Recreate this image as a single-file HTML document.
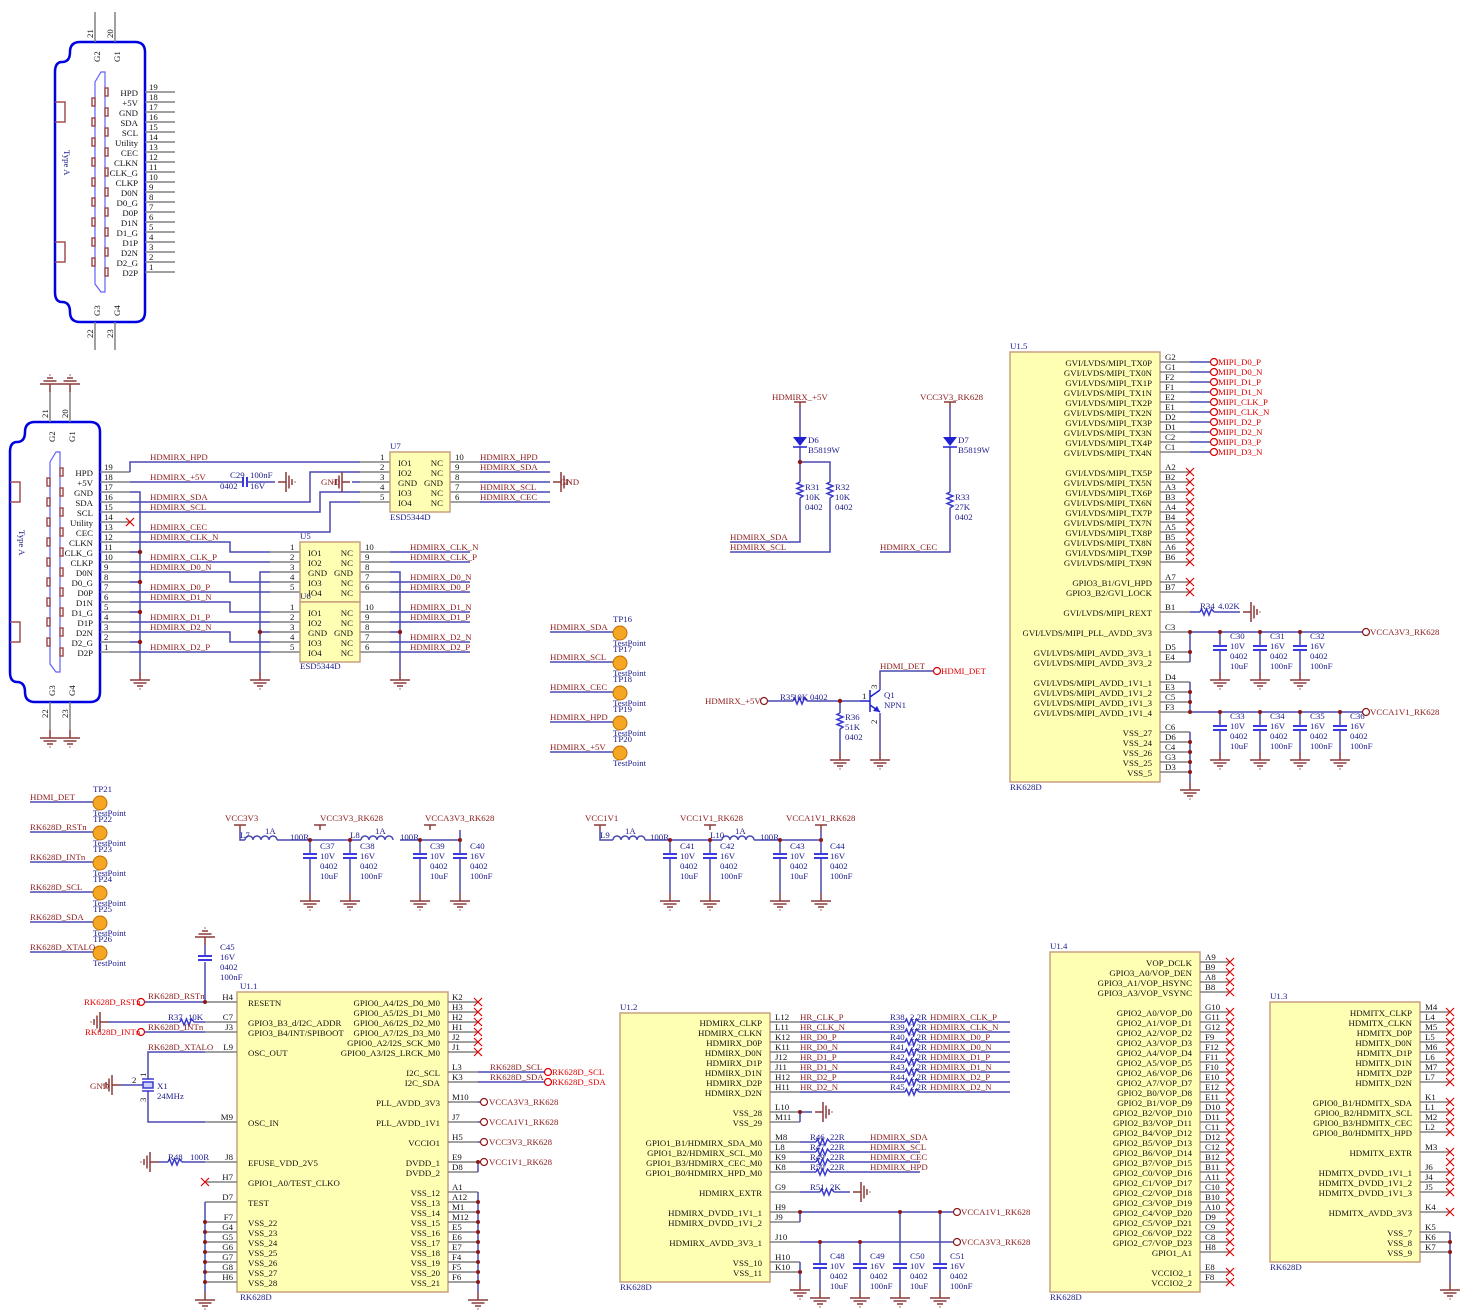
<!DOCTYPE html>
<html><head><meta charset="utf-8"><style>
body{margin:0;background:#fff}
svg{display:block}
text{font-family:"Liberation Serif",serif;font-size:8.8px}
.b{fill:#1c1c8c}.r{fill:#8b1a1a}.k{fill:#111}.rr{fill:#e00000}
.e{text-anchor:end}
.p{stroke:#808080;stroke-width:1.5;fill:none}
.w{stroke:#4848b0;stroke-width:1.5;fill:none}
.bx{fill:#ffffb4;stroke:#c8a080;stroke-width:1.5}
.x{stroke:#e00000;stroke-width:1.2;fill:none}
.gr{stroke:#8b3a3a;stroke-width:1.5;fill:none}
.cp{stroke:#3a3ae0;stroke-width:2;fill:none}
.d{fill:#8b1a1a}
.po{fill:#fff;stroke:#e00000;stroke-width:1.2}
.pd{fill:#fff;stroke:#8b1a1a;stroke-width:1.2}
.tp{fill:#f5a623;stroke:#c07000;stroke-width:1}
</style></head><body>
<svg width="1470" height="1312" viewBox="0 0 1470 1312" xmlns="http://www.w3.org/2000/svg">
<defs>
<g id="gd"><path class="gr" d="M0 0v8M-10 8h20M-6.5 11h13M-3 14h6M-0.5 17h1"/></g>
<g id="rh"><polyline points="0,0 1.5,-3 4,3 6.5,-3 9,3 11.5,-3 14,0" fill="none" stroke="#3a3ad0" stroke-width="1.5"/></g>
<g id="rv"><polyline points="0,0 -3,1.5 3,4 -3,6.5 3,9 -3,11.5 3,14 0,16" fill="none" stroke="#3a3ad0" stroke-width="1.5"/></g>
<g id="cv"><path class="cp" d="M-7 0h14M-7 4h14"/></g>
<g id="xx"><path class="x" d="M-4 -4l8 8M4 -4l-8 8"/></g>
<g id="co">
<path d="M80 42H135Q145 42 145 52V312Q145 322 135 322H80Q70 322 70 312Q70 302 62 302Q55 302 55 292V72Q55 62 62 62Q70 62 70 52Q70 42 80 42Z" fill="none" stroke="#0000e0" stroke-width="2.5"/>
<polygon points="95,82 101,72 105,72 105,292 101,292 95,284" fill="none" stroke="#6060ff" stroke-width="1.2"/>
<path d="M55 102h10v20h-10M55 242h10v20h-10" fill="none" stroke="#a05050" stroke-width="1.5"/>
<path d="M95 12v30M115 12v30M95 322v28M115 322v28" class="p"/>
<path d="M145 92h30M145 102h30M145 112h30M145 122h30M145 132h30M145 142h30M145 152h30M145 162h30M145 172h30M145 182h30M145 192h30M145 202h30M145 212h30M145 222h30M145 232h30M145 242h30M145 252h30M145 262h30M145 272h30" class="p"/>
<g fill="none" stroke="#a05050" stroke-width="1.5">
<rect x="105" y="88" width="3" height="8"/><rect x="105" y="108" width="3" height="8"/><rect x="105" y="128" width="3" height="8"/><rect x="105" y="148" width="3" height="8"/><rect x="105" y="168" width="3" height="8"/><rect x="105" y="188" width="3" height="8"/><rect x="105" y="208" width="3" height="8"/><rect x="105" y="228" width="3" height="8"/><rect x="105" y="248" width="3" height="8"/><rect x="105" y="268" width="3" height="8"/>
<rect x="92" y="98" width="3" height="8"/><rect x="92" y="118" width="3" height="8"/><rect x="92" y="138" width="3" height="8"/><rect x="92" y="158" width="3" height="8"/><rect x="92" y="178" width="3" height="8"/><rect x="92" y="198" width="3" height="8"/><rect x="92" y="218" width="3" height="8"/><rect x="92" y="238" width="3" height="8"/><rect x="92" y="258" width="3" height="8"/>
</g>
<text class="b" font-size="12.5" transform="translate(64,150) rotate(90)">Type  A</text>
<g class="k">
<text transform="translate(93,38) rotate(-90)">21</text><text transform="translate(113,38) rotate(-90)">20</text>
<text transform="translate(100,62) rotate(-90)">G2</text><text transform="translate(120,62) rotate(-90)">G1</text>
<text transform="translate(100,316) rotate(-90)">G3</text><text transform="translate(120,316) rotate(-90)">G4</text>
<text transform="translate(93,338) rotate(-90)">22</text><text transform="translate(113,338) rotate(-90)">23</text>
</g>
<g class="k e">
<text x="138" y="96">HPD</text><text x="138" y="106">+5V</text><text x="138" y="116">GND</text><text x="138" y="126">SDA</text><text x="138" y="136">SCL</text><text x="138" y="146">Utility</text><text x="138" y="156">CEC</text><text x="138" y="166">CLKN</text><text x="138" y="176">CLK_G</text><text x="138" y="186">CLKP</text><text x="138" y="196">D0N</text><text x="138" y="206">D0_G</text><text x="138" y="216">D0P</text><text x="138" y="226">D1N</text><text x="138" y="236">D1_G</text><text x="138" y="246">D1P</text><text x="138" y="256">D2N</text><text x="138" y="266">D2_G</text><text x="138" y="276">D2P</text>
</g>
<g class="k">
<text x="149" y="90">19</text><text x="149" y="100">18</text><text x="149" y="110">17</text><text x="149" y="120">16</text><text x="149" y="130">15</text><text x="149" y="140">14</text><text x="149" y="150">13</text><text x="149" y="160">12</text><text x="149" y="170">11</text><text x="149" y="180">10</text><text x="149" y="190">9</text><text x="149" y="200">8</text><text x="149" y="210">7</text><text x="149" y="220">6</text><text x="149" y="230">5</text><text x="149" y="240">4</text><text x="149" y="250">3</text><text x="149" y="260">2</text><text x="149" y="270">1</text>
</g>
</g>
</defs>

<use href="#co"/>
<use href="#co" transform="translate(-45 380)"/>
<use href="#gd" transform="translate(50 392) rotate(180)"/><use href="#gd" transform="translate(70 392) rotate(180)"/>
<use href="#gd" transform="translate(50 730)"/><use href="#gd" transform="translate(70 730)"/>

<path class="w" d="M130 472V462H360M130 482H243M247 482H275M130 492H140V672M130 552H140M130 582H140M130 612H140M130 642H140M130 502H310V472H360M130 512H320V492H360M130 532H330V502H360M130 542H230V552H270M130 562H270M130 572H230V582H270M130 592H270M130 602H230V612H270M130 622H270M130 632H230V642H270M130 652H270M270 572H260V672M260 632H270M390 572H400V672M390 632H400M390 552H470M390 562H470M390 582H470M390 592H470M390 612H470M390 622H470M390 642H470M390 652H470M480 462H550M480 472H550M480 492H550M480 502H550M480 482H550M360 482H352"/>
<path class="cp" d="M243 477v10M247 477v10"/>
<use href="#gd" transform="translate(278 482) rotate(-90)"/>
<use href="#gd" transform="translate(553 482) rotate(-90)"/>
<use href="#gd" transform="translate(350 482) rotate(90)"/>
<use href="#gd" transform="translate(140 672)"/><use href="#gd" transform="translate(260 672)"/><use href="#gd" transform="translate(400 672)"/>
<use href="#xx" transform="translate(130 522)"/>
<g class="d"><circle cx="140" cy="552" r="2.2"/><circle cx="140" cy="582" r="2.2"/><circle cx="140" cy="612" r="2.2"/><circle cx="140" cy="642" r="2.2"/><circle cx="260" cy="632" r="2.2"/><circle cx="400" cy="632" r="2.2"/></g>
<g class="r">
<text x="150" y="460">HDMIRX_HPD</text><text x="150" y="480">HDMIRX_+5V</text><text x="150" y="500">HDMIRX_SDA</text><text x="150" y="510">HDMIRX_SCL</text><text x="150" y="530">HDMIRX_CEC</text><text x="150" y="540">HDMIRX_CLK_N</text><text x="150" y="560">HDMIRX_CLK_P</text><text x="150" y="570">HDMIRX_D0_N</text><text x="150" y="590">HDMIRX_D0_P</text><text x="150" y="600">HDMIRX_D1_N</text><text x="150" y="620">HDMIRX_D1_P</text><text x="150" y="630">HDMIRX_D2_N</text><text x="150" y="650">HDMIRX_D2_P</text>
<text x="480" y="460">HDMIRX_HPD</text><text x="480" y="470">HDMIRX_SDA</text><text x="480" y="490">HDMIRX_SCL</text><text x="480" y="500">HDMIRX_CEC</text>
<text x="410" y="550">HDMIRX_CLK_N</text><text x="410" y="560">HDMIRX_CLK_P</text><text x="410" y="580">HDMIRX_D0_N</text><text x="410" y="590">HDMIRX_D0_P</text><text x="410" y="610">HDMIRX_D1_N</text><text x="410" y="620">HDMIRX_D1_P</text><text x="410" y="640">HDMIRX_D2_N</text><text x="410" y="650">HDMIRX_D2_P</text>
<text x="321" y="485">GND</text><text x="560" y="485">GND</text>
</g>
<g class="b"><text x="230" y="478">C29</text><text x="250" y="478">100nF</text><text x="220" y="489">0402</text><text x="250" y="489">16V</text></g>

<path class="p" d="M360 462h30M360 472h30M360 482h30M360 492h30M360 502h30M450 462h30M450 472h30M450 482h30M450 492h30M450 502h30"/>
<rect class="bx" x="390" y="452" width="60" height="60"/>
<g class="k"><text x="398" y="466">IO1</text><text x="398" y="476">IO2</text><text x="398" y="486">GND</text><text x="398" y="496">IO3</text><text x="398" y="506">IO4</text>
<text class="e" x="443" y="466">NC</text><text class="e" x="443" y="476">NC</text><text class="e" x="443" y="486">GND</text><text class="e" x="443" y="496">NC</text><text class="e" x="443" y="506">NC</text>
<text x="380" y="460">1</text><text x="380" y="470">2</text><text x="380" y="480">3</text><text x="380" y="490">4</text><text x="380" y="500">5</text>
<text x="455" y="460">10</text><text x="455" y="470">9</text><text x="455" y="480">8</text><text x="455" y="490">7</text><text x="455" y="500">6</text></g>
<text class="b" x="390" y="449">U7</text><text class="b" x="390" y="520">ESD5344D</text>

<path class="p" d="M270 552h30M270 562h30M270 572h30M270 582h30M270 592h30M360 552h30M360 562h30M360 572h30M360 582h30M360 592h30M270 612h30M270 622h30M270 632h30M270 642h30M270 652h30M360 612h30M360 622h30M360 632h30M360 642h30M360 652h30"/>
<rect class="bx" x="300" y="542" width="60" height="60"/>
<rect class="bx" x="300" y="602" width="60" height="60"/>
<g class="k">
<text x="308" y="556">IO1</text><text x="308" y="566">IO2</text><text x="308" y="576">GND</text><text x="308" y="586">IO3</text><text x="308" y="596">IO4</text>
<text class="e" x="353" y="556">NC</text><text class="e" x="353" y="566">NC</text><text class="e" x="353" y="576">GND</text><text class="e" x="353" y="586">NC</text><text class="e" x="353" y="596">NC</text>
<text x="308" y="616">IO1</text><text x="308" y="626">IO2</text><text x="308" y="636">GND</text><text x="308" y="646">IO3</text><text x="308" y="656">IO4</text>
<text class="e" x="353" y="616">NC</text><text class="e" x="353" y="626">NC</text><text class="e" x="353" y="636">GND</text><text class="e" x="353" y="646">NC</text><text class="e" x="353" y="656">NC</text>
<text x="290" y="550">1</text><text x="290" y="560">2</text><text x="290" y="570">3</text><text x="290" y="580">4</text><text x="290" y="590">5</text>
<text x="290" y="610">1</text><text x="290" y="620">2</text><text x="290" y="630">3</text><text x="290" y="640">4</text><text x="290" y="650">5</text>
<text x="365" y="550">10</text><text x="365" y="560">9</text><text x="365" y="570">8</text><text x="365" y="580">7</text><text x="365" y="590">6</text>
<text x="365" y="610">10</text><text x="365" y="620">9</text><text x="365" y="630">8</text><text x="365" y="640">7</text><text x="365" y="650">6</text></g>
<text class="b" x="300" y="539">U5</text><text class="b" x="300" y="599">U6</text><text class="b" x="300" y="669">ESD5344D</text>

<path class="w" d="M550 632H613M550 662H613M550 692H613M550 722H613M550 752H613"/>
<g class="tp"><circle cx="620" cy="633" r="7"/><circle cx="620" cy="663" r="7"/><circle cx="620" cy="693" r="7"/><circle cx="620" cy="723" r="7"/><circle cx="620" cy="753" r="7"/></g>
<g class="r"><text x="550" y="630">HDMIRX_SDA</text><text x="550" y="660">HDMIRX_SCL</text><text x="550" y="690">HDMIRX_CEC</text><text x="550" y="720">HDMIRX_HPD</text><text x="550" y="750">HDMIRX_+5V</text></g>
<g class="b"><text x="613" y="622">TP16</text><text x="613" y="646">TestPoint</text><text x="613" y="652">TP17</text><text x="613" y="676">TestPoint</text><text x="613" y="682">TP18</text><text x="613" y="706">TestPoint</text><text x="613" y="712">TP19</text><text x="613" y="736">TestPoint</text><text x="613" y="742">TP20</text><text x="613" y="766">TestPoint</text></g>

<path class="w" d="M30 802H93M30 832H93M30 862H93M30 892H93M30 922H93M30 952H93"/>
<g class="tp"><circle cx="100" cy="803" r="7"/><circle cx="100" cy="833" r="7"/><circle cx="100" cy="863" r="7"/><circle cx="100" cy="893" r="7"/><circle cx="100" cy="923" r="7"/><circle cx="100" cy="953" r="7"/></g>
<g class="r"><text x="30" y="800">HDMI_DET</text><text x="30" y="830">RK628D_RSTn</text><text x="30" y="860">RK628D_INTn</text><text x="30" y="890">RK628D_SCL</text><text x="30" y="920">RK628D_SDA</text><text x="30" y="950">RK628D_XTALO</text></g>
<g class="b"><text x="93" y="792">TP21</text><text x="93" y="816">TestPoint</text><text x="93" y="822">TP22</text><text x="93" y="846">TestPoint</text><text x="93" y="852">TP23</text><text x="93" y="876">TestPoint</text><text x="93" y="882">TP24</text><text x="93" y="906">TestPoint</text><text x="93" y="912">TP25</text><text x="93" y="936">TestPoint</text><text x="93" y="942">TP26</text><text x="93" y="966">TestPoint</text></g>

<path class="gr" d="M794 402h12M800 402v5M944 402h12M950 402v5"/>
<path class="w" d="M800 407V437M800 447V482M800 498V542H730M800 462H830V482M830 498V552H730M950 407V437M950 447V492M950 508V552H880"/>
<g fill="#2020d0"><polygon points="793,437 807,437 800,446"/><polygon points="943,437 957,437 950,446"/></g>
<path d="M793 447h14M943 447h14" stroke="#2020d0" stroke-width="1.5"/>
<use href="#rv" x="800" y="482"/><use href="#rv" x="830" y="482"/><use href="#rv" x="950" y="492"/>
<circle class="d" cx="800" cy="462" r="2.2"/>
<g class="r"><text x="772" y="400">HDMIRX_+5V</text><text x="920" y="400">VCC3V3_RK628</text><text x="730" y="540">HDMIRX_SDA</text><text x="730" y="550">HDMIRX_SCL</text><text x="880" y="550">HDMIRX_CEC</text></g>
<g class="b"><text x="808" y="443">D6</text><text x="808" y="453">B5819W</text><text x="958" y="443">D7</text><text x="958" y="453">B5819W</text>
<text x="805" y="490">R31</text><text x="805" y="500">10K</text><text x="805" y="510">0402</text><text x="835" y="490">R32</text><text x="835" y="500">10K</text><text x="835" y="510">0402</text>
<text x="955" y="500">R33</text><text x="955" y="510">27K</text><text x="955" y="520">0402</text></g>

<circle class="pd" cx="764" cy="701" r="3.5"/>
<path class="w" d="M768 701H793M807 701H860M840 701V713M840 729V752M880 690V671H933M880 713V752"/>
<use href="#rh" x="793" y="701"/><use href="#rv" x="840" y="713"/>
<circle class="d" cx="840" cy="701" r="2.2"/>
<path d="M870 690v22M860 701h10M870 697l10 -7M870 705l10 7" stroke="#2020d0" stroke-width="1.5" fill="none"/>
<polygon points="880,712 873,711 877,706" fill="#2020d0"/>
<circle class="po" cx="937" cy="671" r="3.5"/>
<use href="#gd" transform="translate(840 752)"/><use href="#gd" transform="translate(880 752)"/>
<g class="r"><text x="705" y="704">HDMIRX_+5V</text><text x="880" y="669">HDMI_DET</text></g>
<text class="rr" x="941" y="674">HDMI_DET</text>
<g class="b"><text x="780" y="700">R35</text><text x="793" y="700">10K</text><text x="810" y="700">0402</text><text x="845" y="720">R36</text><text x="845" y="730">51K</text><text x="845" y="740">0402</text><text x="884" y="698">Q1</text><text x="884" y="708">NPN1</text></g>
<g class="k"><text x="862" y="699">1</text><text transform="translate(877,689) rotate(-90)">3</text><text transform="translate(877,724) rotate(-90)">2</text></g>

<path class="gr" d="M234 825h12M240 825v5M314 825h12M320 825v5M424 825h12M430 825v5"/>
<path class="w" d="M240 830V840H245M277 840H361M400 840H460V830M310 840V853M310 858V893M350 840V853M350 858V893M420 840V853M420 858V893M460 840V853M460 858V893"/>
<path class="w" d="M245 840a4 4 0 0 1 8 0a4 4 0 0 1 8 0a4 4 0 0 1 8 0a4 4 0 0 1 8 0M361 840a4 4 0 0 1 8 0a4 4 0 0 1 8 0a4 4 0 0 1 8 0a4 4 0 0 1 8 0"/>
<path class="gr" d="M594 825h12M600 825v5M704 825h12M710 825v5M815 825h12M821 825v5"/>
<path class="w" d="M600 830V840H613M645 840H722M754 840H821V830M670 840V853M670 858V893M710 840V853M710 858V893M780 840V853M780 858V893M821 840V853M821 858V893"/>
<path class="w" d="M613 840a4 4 0 0 1 8 0a4 4 0 0 1 8 0a4 4 0 0 1 8 0a4 4 0 0 1 8 0M722 840a4 4 0 0 1 8 0a4 4 0 0 1 8 0a4 4 0 0 1 8 0a4 4 0 0 1 8 0"/>
<g><use href="#cv" x="310" y="854"/><use href="#cv" x="350" y="854"/><use href="#cv" x="420" y="854"/><use href="#cv" x="460" y="854"/><use href="#cv" x="670" y="854"/><use href="#cv" x="710" y="854"/><use href="#cv" x="780" y="854"/><use href="#cv" x="821" y="854"/></g>
<use href="#gd" x="310" y="893"/><use href="#gd" x="350" y="893"/><use href="#gd" x="420" y="893"/><use href="#gd" x="460" y="893"/><use href="#gd" x="670" y="893"/><use href="#gd" x="710" y="893"/><use href="#gd" x="780" y="893"/><use href="#gd" x="821" y="893"/>
<g class="d"><circle cx="310" cy="840" r="2"/><circle cx="350" cy="840" r="2"/><circle cx="420" cy="840" r="2"/><circle cx="460" cy="840" r="2"/><circle cx="670" cy="840" r="2"/><circle cx="710" cy="840" r="2"/><circle cx="780" cy="840" r="2"/><circle cx="821" cy="840" r="2"/></g>
<g class="r"><text x="225" y="821">VCC3V3</text><text x="320" y="821">VCC3V3_RK628</text><text x="425" y="821">VCCA3V3_RK628</text><text x="585" y="821">VCC1V1</text><text x="680" y="821">VCC1V1_RK628</text><text x="786" y="821">VCCA1V1_RK628</text></g>
<g class="b">
<text x="240" y="838">L7</text><text x="265" y="834">1A</text><text x="290" y="840">100R</text><text x="350" y="838">L8</text><text x="375" y="834">1A</text><text x="400" y="840">100R</text>
<text x="600" y="838">L9</text><text x="625" y="834">1A</text><text x="650" y="840">100R</text><text x="710" y="838">L10</text><text x="735" y="834">1A</text><text x="760" y="840">100R</text>
<text x="320" y="849">C37</text><text x="320" y="859">10V</text><text x="320" y="869">0402</text><text x="320" y="879">10uF</text>
<text x="360" y="849">C38</text><text x="360" y="859">16V</text><text x="360" y="869">0402</text><text x="360" y="879">100nF</text>
<text x="430" y="849">C39</text><text x="430" y="859">10V</text><text x="430" y="869">0402</text><text x="430" y="879">10uF</text>
<text x="470" y="849">C40</text><text x="470" y="859">16V</text><text x="470" y="869">0402</text><text x="470" y="879">100nF</text>
<text x="680" y="849">C41</text><text x="680" y="859">10V</text><text x="680" y="869">0402</text><text x="680" y="879">10uF</text>
<text x="720" y="849">C42</text><text x="720" y="859">16V</text><text x="720" y="869">0402</text><text x="720" y="879">100nF</text>
<text x="790" y="849">C43</text><text x="790" y="859">10V</text><text x="790" y="869">0402</text><text x="790" y="879">10uF</text>
<text x="830" y="849">C44</text><text x="830" y="859">16V</text><text x="830" y="869">0402</text><text x="830" y="879">100nF</text></g>

<rect class="bx" x="1010" y="352" width="150" height="430"/>
<path class="p" d="M1160 362h30M1160 372h30M1160 382h30M1160 392h30M1160 402h30M1160 412h30M1160 422h30M1160 432h30M1160 442h30M1160 452h30M1160 472h30M1160 482h30M1160 492h30M1160 502h30M1160 512h30M1160 522h30M1160 532h30M1160 542h30M1160 552h30M1160 562h30M1160 582h30M1160 592h30M1160 612h30M1160 632h30M1160 652h30M1160 662h30M1160 682h30M1160 692h30M1160 702h30M1160 712h30M1160 732h30M1160 742h30M1160 752h30M1160 762h30M1160 772h30"/>
<path class="w" d="M1190 362H1210M1190 372H1210M1190 382H1210M1190 392H1210M1190 402H1210M1190 412H1210M1190 422H1210M1190 432H1210M1190 442H1210M1190 452H1210M1190 612H1200M1214 612H1240M1190 632H1362M1190 632V662M1190 682V712H1362M1190 732V782M1220 632V645M1220 650V672M1260 632V645M1260 650V672M1300 632V645M1300 650V672M1220 712V725M1220 730V752M1260 712V725M1260 730V752M1300 712V725M1300 730V752M1340 712V725M1340 730V752"/>
<use href="#rh" x="1200" y="612"/>
<use href="#gd" transform="translate(1243 612) rotate(-90)"/>
<g><use href="#cv" x="1220" y="646"/><use href="#cv" x="1260" y="646"/><use href="#cv" x="1300" y="646"/><use href="#cv" x="1220" y="726"/><use href="#cv" x="1260" y="726"/><use href="#cv" x="1300" y="726"/><use href="#cv" x="1340" y="726"/></g>
<use href="#gd" x="1220" y="672"/><use href="#gd" x="1260" y="672"/><use href="#gd" x="1300" y="672"/><use href="#gd" x="1220" y="752"/><use href="#gd" x="1260" y="752"/><use href="#gd" x="1300" y="752"/><use href="#gd" x="1340" y="752"/><use href="#gd" x="1190" y="782"/>
<g class="d"><circle cx="1190" cy="632" r="2"/><circle cx="1190" cy="652" r="2"/><circle cx="1220" cy="632" r="2"/><circle cx="1260" cy="632" r="2"/><circle cx="1300" cy="632" r="2"/><circle cx="1190" cy="692" r="2"/><circle cx="1190" cy="702" r="2"/><circle cx="1190" cy="712" r="2"/><circle cx="1220" cy="712" r="2"/><circle cx="1260" cy="712" r="2"/><circle cx="1300" cy="712" r="2"/><circle cx="1340" cy="712" r="2"/><circle cx="1190" cy="742" r="2"/><circle cx="1190" cy="752" r="2"/><circle cx="1190" cy="762" r="2"/><circle cx="1190" cy="772" r="2"/></g>
<g class="po"><circle cx="1214" cy="362" r="3.5"/><circle cx="1214" cy="372" r="3.5"/><circle cx="1214" cy="382" r="3.5"/><circle cx="1214" cy="392" r="3.5"/><circle cx="1214" cy="402" r="3.5"/><circle cx="1214" cy="412" r="3.5"/><circle cx="1214" cy="422" r="3.5"/><circle cx="1214" cy="432" r="3.5"/><circle cx="1214" cy="442" r="3.5"/><circle cx="1214" cy="452" r="3.5"/></g>
<g class="pd"><circle cx="1366" cy="632" r="3.5"/><circle cx="1366" cy="712" r="3.5"/></g>
<g><use href="#xx" x="1190" y="472"/><use href="#xx" x="1190" y="482"/><use href="#xx" x="1190" y="492"/><use href="#xx" x="1190" y="502"/><use href="#xx" x="1190" y="512"/><use href="#xx" x="1190" y="522"/><use href="#xx" x="1190" y="532"/><use href="#xx" x="1190" y="542"/><use href="#xx" x="1190" y="552"/><use href="#xx" x="1190" y="562"/><use href="#xx" x="1190" y="582"/><use href="#xx" x="1190" y="592"/></g>
<g class="k e">
<text x="1152" y="366">GVI/LVDS/MIPI_TX0P</text><text x="1152" y="376">GVI/LVDS/MIPI_TX0N</text><text x="1152" y="386">GVI/LVDS/MIPI_TX1P</text><text x="1152" y="396">GVI/LVDS/MIPI_TX1N</text><text x="1152" y="406">GVI/LVDS/MIPI_TX2P</text><text x="1152" y="416">GVI/LVDS/MIPI_TX2N</text><text x="1152" y="426">GVI/LVDS/MIPI_TX3P</text><text x="1152" y="436">GVI/LVDS/MIPI_TX3N</text><text x="1152" y="446">GVI/LVDS/MIPI_TX4P</text><text x="1152" y="456">GVI/LVDS/MIPI_TX4N</text>
<text x="1152" y="476">GVI/LVDS/MIPI_TX5P</text><text x="1152" y="486">GVI/LVDS/MIPI_TX5N</text><text x="1152" y="496">GVI/LVDS/MIPI_TX6P</text><text x="1152" y="506">GVI/LVDS/MIPI_TX6N</text><text x="1152" y="516">GVI/LVDS/MIPI_TX7P</text><text x="1152" y="526">GVI/LVDS/MIPI_TX7N</text><text x="1152" y="536">GVI/LVDS/MIPI_TX8P</text><text x="1152" y="546">GVI/LVDS/MIPI_TX8N</text><text x="1152" y="556">GVI/LVDS/MIPI_TX9P</text><text x="1152" y="566">GVI/LVDS/MIPI_TX9N</text>
<text x="1152" y="586">GPIO3_B1/GVI_HPD</text><text x="1152" y="596">GPIO3_B2/GVI_LOCK</text><text x="1152" y="616">GVI/LVDS/MIPI_REXT</text><text x="1152" y="636">GVI/LVDS/MIPI_PLL_AVDD_3V3</text>
<text x="1152" y="656">GVI/LVDS/MIPI_AVDD_3V3_1</text><text x="1152" y="666">GVI/LVDS/MIPI_AVDD_3V3_2</text>
<text x="1152" y="686">GVI/LVDS/MIPI_AVDD_1V1_1</text><text x="1152" y="696">GVI/LVDS/MIPI_AVDD_1V1_2</text><text x="1152" y="706">GVI/LVDS/MIPI_AVDD_1V1_3</text><text x="1152" y="716">GVI/LVDS/MIPI_AVDD_1V1_4</text>
<text x="1152" y="736">VSS_27</text><text x="1152" y="746">VSS_24</text><text x="1152" y="756">VSS_26</text><text x="1152" y="766">VSS_25</text><text x="1152" y="776">VSS_5</text>
</g>
<g class="k">
<text x="1165" y="360">G2</text><text x="1165" y="370">G1</text><text x="1165" y="380">F2</text><text x="1165" y="390">F1</text><text x="1165" y="400">E2</text><text x="1165" y="410">E1</text><text x="1165" y="420">D2</text><text x="1165" y="430">D1</text><text x="1165" y="440">C2</text><text x="1165" y="450">C1</text>
<text x="1165" y="470">A2</text><text x="1165" y="480">B2</text><text x="1165" y="490">A3</text><text x="1165" y="500">B3</text><text x="1165" y="510">A4</text><text x="1165" y="520">B4</text><text x="1165" y="530">A5</text><text x="1165" y="540">B5</text><text x="1165" y="550">A6</text><text x="1165" y="560">B6</text>
<text x="1165" y="580">A7</text><text x="1165" y="590">B7</text><text x="1165" y="610">B1</text><text x="1165" y="630">C3</text><text x="1165" y="650">D5</text><text x="1165" y="660">E4</text>
<text x="1165" y="680">D4</text><text x="1165" y="690">E3</text><text x="1165" y="700">C5</text><text x="1165" y="710">F3</text>
<text x="1165" y="730">C6</text><text x="1165" y="740">D6</text><text x="1165" y="750">C4</text><text x="1165" y="760">G3</text><text x="1165" y="770">D3</text></g>
<g class="rr"><text x="1218" y="365">MIPI_D0_P</text><text x="1218" y="375">MIPI_D0_N</text><text x="1218" y="385">MIPI_D1_P</text><text x="1218" y="395">MIPI_D1_N</text><text x="1218" y="405">MIPI_CLK_P</text><text x="1218" y="415">MIPI_CLK_N</text><text x="1218" y="425">MIPI_D2_P</text><text x="1218" y="435">MIPI_D2_N</text><text x="1218" y="445">MIPI_D3_P</text><text x="1218" y="455">MIPI_D3_N</text></g>
<g class="r"><text x="1370" y="635">VCCA3V3_RK628</text><text x="1370" y="715">VCCA1V1_RK628</text></g>
<g class="b"><text x="1010" y="349">U1.5</text><text x="1010" y="790">RK628D</text><text x="1200" y="609">R34</text><text x="1218" y="609">4.02K</text>
<text x="1230" y="639">C30</text><text x="1230" y="649">10V</text><text x="1230" y="659">0402</text><text x="1230" y="669">10uF</text>
<text x="1270" y="639">C31</text><text x="1270" y="649">16V</text><text x="1270" y="659">0402</text><text x="1270" y="669">100nF</text>
<text x="1310" y="639">C32</text><text x="1310" y="649">16V</text><text x="1310" y="659">0402</text><text x="1310" y="669">100nF</text>
<text x="1230" y="719">C33</text><text x="1230" y="729">10V</text><text x="1230" y="739">0402</text><text x="1230" y="749">10uF</text>
<text x="1270" y="719">C34</text><text x="1270" y="729">16V</text><text x="1270" y="739">0402</text><text x="1270" y="749">100nF</text>
<text x="1310" y="719">C35</text><text x="1310" y="729">16V</text><text x="1310" y="739">0402</text><text x="1310" y="749">100nF</text>
<text x="1350" y="719">C36</text><text x="1350" y="729">16V</text><text x="1350" y="739">0402</text><text x="1350" y="749">100nF</text></g>

<rect class="bx" x="237" y="992" width="211" height="300"/>
<path class="p" d="M205 1002h32M205 1022h32M205 1032h32M205 1052h32M205 1122h32M205 1162h32M205 1182h32M205 1202h32M205 1222h32M205 1232h32M205 1242h32M205 1252h32M205 1262h32M205 1272h32M205 1282h32M448 1002h30M448 1012h30M448 1022h30M448 1032h30M448 1042h30M448 1052h30M448 1072h30M448 1082h30M448 1102h30M448 1122h30M448 1142h30M448 1162h30M448 1172h30M448 1192h30M448 1202h30M448 1212h30M448 1222h30M448 1232h30M448 1242h30M448 1252h30M448 1262h30M448 1272h30M448 1282h30"/>
<path class="w" d="M145 1002H205M205 1002V962M205 956V945M108 1022H180M194 1022H205M145 1032H205M205 1052H148V1079M148 1091V1122H205M120 1085H143M158 1162H168M182 1162H205M205 1202V1292M478 1192V1292M478 1162V1172M478 1072H544M478 1082H544M478 1102H480M478 1122H480M478 1142H480M478 1162H480"/>
<use href="#cv" x="205" y="956"/>
<use href="#gd" transform="translate(205 945) rotate(180)"/>
<use href="#rh" x="180" y="1022"/><use href="#rh" x="168" y="1162"/>
<use href="#gd" transform="translate(108 1022) rotate(90)"/><use href="#gd" transform="translate(158 1162) rotate(90)"/><use href="#gd" transform="translate(120 1085) rotate(90)"/>
<rect x="143" y="1082" width="10" height="6" fill="#d0d0ff" stroke="#3a3ad0" stroke-width="1.5"/>
<path d="M142 1079h12M142 1091h12" stroke="#3a3ad0" stroke-width="1.5"/>
<use href="#gd" x="205" y="1292"/><use href="#gd" x="478" y="1292"/>
<use href="#xx" x="205" y="1182"/>
<g><use href="#xx" x="478" y="1002"/><use href="#xx" x="478" y="1012"/><use href="#xx" x="478" y="1022"/><use href="#xx" x="478" y="1032"/><use href="#xx" x="478" y="1042"/><use href="#xx" x="478" y="1052"/></g>
<g class="d"><circle cx="205" cy="1002" r="2"/><circle cx="205" cy="1222" r="2"/><circle cx="205" cy="1232" r="2"/><circle cx="205" cy="1242" r="2"/><circle cx="205" cy="1252" r="2"/><circle cx="205" cy="1262" r="2"/><circle cx="205" cy="1272" r="2"/><circle cx="205" cy="1282" r="2"/><circle cx="478" cy="1162" r="2"/><circle cx="478" cy="1202" r="2"/><circle cx="478" cy="1212" r="2"/><circle cx="478" cy="1222" r="2"/><circle cx="478" cy="1232" r="2"/><circle cx="478" cy="1242" r="2"/><circle cx="478" cy="1252" r="2"/><circle cx="478" cy="1262" r="2"/><circle cx="478" cy="1272" r="2"/><circle cx="478" cy="1282" r="2"/></g>
<g class="po"><circle cx="141" cy="1002" r="3.5"/><circle cx="141" cy="1032" r="3.5"/><circle cx="548" cy="1072" r="3.5"/><circle cx="548" cy="1082" r="3.5"/></g>
<g class="pd"><circle cx="484" cy="1102" r="3.5"/><circle cx="484" cy="1122" r="3.5"/><circle cx="484" cy="1142" r="3.5"/><circle cx="484" cy="1162" r="3.5"/></g>
<g class="rr"><text x="84" y="1005">RK628D_RSTn</text><text x="85" y="1035">RK628D_INTn</text><text x="552" y="1075">RK628D_SCL</text><text x="552" y="1085">RK628D_SDA</text></g>
<g class="r"><text x="148" y="999">RK628D_RSTn</text><text x="148" y="1030">RK628D_INTn</text><text x="148" y="1050">RK628D_XTALO</text><text x="490" y="1070">RK628D_SCL</text><text x="490" y="1080">RK628D_SDA</text><text x="90" y="1089">GND</text>
<text x="489" y="1105">VCCA3V3_RK628</text><text x="489" y="1125">VCCA1V1_RK628</text><text x="489" y="1145">VCC3V3_RK628</text><text x="489" y="1165">VCC1V1_RK628</text></g>
<g class="b"><text x="240" y="989">U1.1</text><text x="240" y="1300">RK628D</text><text x="220" y="950">C45</text><text x="220" y="960">16V</text><text x="220" y="970">0402</text><text x="220" y="980">100nF</text>
<text x="168" y="1020">R37</text><text x="188" y="1020">10K</text><text x="168" y="1160">R48</text><text x="190" y="1160">100R</text><text x="157" y="1089">X1</text><text x="157" y="1099">24MHz</text></g>
<g class="k"><text x="132" y="1083">2</text><text transform="translate(146,1077) rotate(-90)">1</text><text transform="translate(146,1102) rotate(-90)">3</text></g>
<g class="k">
<text x="248" y="1006">RESETN</text><text x="248" y="1026">GPIO3_B3_d/I2C_ADDR</text><text x="248" y="1036">GPIO3_B4/INT/SPIBOOT</text><text x="248" y="1056">OSC_OUT</text><text x="248" y="1126">OSC_IN</text><text x="248" y="1166">EFUSE_VDD_2V5</text><text x="248" y="1186">GPIO1_A0/TEST_CLKO</text><text x="248" y="1206">TEST</text>
<text x="248" y="1226">VSS_22</text><text x="248" y="1236">VSS_23</text><text x="248" y="1246">VSS_24</text><text x="248" y="1256">VSS_25</text><text x="248" y="1266">VSS_26</text><text x="248" y="1276">VSS_27</text><text x="248" y="1286">VSS_28</text>
</g>
<g class="k e">
<text x="440" y="1006">GPIO0_A4/I2S_D0_M0</text><text x="440" y="1016">GPIO0_A5/I2S_D1_M0</text><text x="440" y="1026">GPIO0_A6/I2S_D2_M0</text><text x="440" y="1036">GPIO0_A7/I2S_D3_M0</text><text x="440" y="1046">GPIO0_A2/I2S_SCK_M0</text><text x="440" y="1056">GPIO0_A3/I2S_LRCK_M0</text>
<text x="440" y="1076">I2C_SCL</text><text x="440" y="1086">I2C_SDA</text><text x="440" y="1106">PLL_AVDD_3V3</text><text x="440" y="1126">PLL_AVDD_1V1</text><text x="440" y="1146">VCCIO1</text><text x="440" y="1166">DVDD_1</text><text x="440" y="1176">DVDD_2</text>
<text x="440" y="1196">VSS_12</text><text x="440" y="1206">VSS_13</text><text x="440" y="1216">VSS_14</text><text x="440" y="1226">VSS_15</text><text x="440" y="1236">VSS_16</text><text x="440" y="1246">VSS_17</text><text x="440" y="1256">VSS_18</text><text x="440" y="1266">VSS_19</text><text x="440" y="1276">VSS_20</text><text x="440" y="1286">VSS_21</text>
<text x="233" y="1000">H4</text><text x="233" y="1020">C7</text><text x="233" y="1030">J3</text><text x="233" y="1050">L9</text><text x="233" y="1120">M9</text><text x="233" y="1160">J8</text><text x="233" y="1180">H7</text><text x="233" y="1200">D7</text><text x="233" y="1220">F7</text><text x="233" y="1230">G4</text><text x="233" y="1240">G5</text><text x="233" y="1250">G6</text><text x="233" y="1260">G7</text><text x="233" y="1270">G8</text><text x="233" y="1280">H6</text>
</g>
<g class="k">
<text x="452" y="1000">K2</text><text x="452" y="1010">H3</text><text x="452" y="1020">H2</text><text x="452" y="1030">H1</text><text x="452" y="1040">J2</text><text x="452" y="1050">J1</text><text x="452" y="1070">L3</text><text x="452" y="1080">K3</text><text x="452" y="1100">M10</text><text x="452" y="1120">J7</text><text x="452" y="1140">H5</text><text x="452" y="1160">E9</text><text x="452" y="1170">D8</text>
<text x="452" y="1190">A1</text><text x="452" y="1200">A12</text><text x="452" y="1210">M1</text><text x="452" y="1220">M12</text><text x="452" y="1230">E5</text><text x="452" y="1240">E6</text><text x="452" y="1250">E7</text><text x="452" y="1260">F4</text><text x="452" y="1270">F5</text><text x="452" y="1280">F6</text></g>

<rect class="bx" x="620" y="1013" width="150" height="269"/>
<path class="p" d="M770 1022h30M770 1032h30M770 1042h30M770 1052h30M770 1062h30M770 1072h30M770 1082h30M770 1092h30M770 1112h30M770 1122h30M770 1142h30M770 1152h30M770 1162h30M770 1172h30M770 1192h30M770 1212h30M770 1222h30M770 1242h30M770 1262h30M770 1272h30"/>
<path class="w" d="M800 1022H905M919 1022H1010M800 1032H905M919 1032H1010M800 1042H905M919 1042H1010M800 1052H905M919 1052H1010M800 1062H905M919 1062H1010M800 1072H905M919 1072H1010M800 1082H905M919 1082H1010M800 1092H905M919 1092H1010M800 1112V1122M800 1112H812M800 1142H816M830 1142H920M800 1152H816M830 1152H920M800 1162H816M830 1162H920M800 1172H816M830 1172H920M800 1192H820M834 1192H850M800 1212V1222M800 1212H953M800 1242H953M800 1262V1282M820 1242V1263M820 1268V1290M860 1242V1263M860 1268V1290M900 1212V1263M900 1268V1290M940 1212V1263M940 1268V1290"/>
<g><use href="#rh" x="905" y="1022"/><use href="#rh" x="905" y="1032"/><use href="#rh" x="905" y="1042"/><use href="#rh" x="905" y="1052"/><use href="#rh" x="905" y="1062"/><use href="#rh" x="905" y="1072"/><use href="#rh" x="905" y="1082"/><use href="#rh" x="905" y="1092"/><use href="#rh" x="816" y="1142"/><use href="#rh" x="816" y="1152"/><use href="#rh" x="816" y="1162"/><use href="#rh" x="816" y="1172"/><use href="#rh" x="820" y="1192"/></g>
<use href="#gd" transform="translate(815 1112) rotate(-90)"/><use href="#gd" transform="translate(853 1192) rotate(-90)"/>
<g><use href="#cv" x="820" y="1264"/><use href="#cv" x="860" y="1264"/><use href="#cv" x="900" y="1264"/><use href="#cv" x="940" y="1264"/></g>
<use href="#gd" x="800" y="1282"/><use href="#gd" x="820" y="1290"/><use href="#gd" x="860" y="1290"/><use href="#gd" x="900" y="1290"/><use href="#gd" x="940" y="1290"/>
<g class="d"><circle cx="800" cy="1112" r="2"/><circle cx="800" cy="1212" r="2"/><circle cx="900" cy="1212" r="2"/><circle cx="940" cy="1212" r="2"/><circle cx="820" cy="1242" r="2"/><circle cx="860" cy="1242" r="2"/><circle cx="800" cy="1272" r="2"/></g>
<g class="pd"><circle cx="957" cy="1212" r="3.5"/><circle cx="957" cy="1242" r="3.5"/></g>
<g class="r"><text x="961" y="1215">VCCA1V1_RK628</text><text x="961" y="1245">VCCA3V3_RK628</text>
<text x="800" y="1020">HR_CLK_P</text><text x="800" y="1030">HR_CLK_N</text><text x="800" y="1040">HR_D0_P</text><text x="800" y="1050">HR_D0_N</text><text x="800" y="1060">HR_D1_P</text><text x="800" y="1070">HR_D1_N</text><text x="800" y="1080">HR_D2_P</text><text x="800" y="1090">HR_D2_N</text>
<text x="930" y="1020">HDMIRX_CLK_P</text><text x="930" y="1030">HDMIRX_CLK_N</text><text x="930" y="1040">HDMIRX_D0_P</text><text x="930" y="1050">HDMIRX_D0_N</text><text x="930" y="1060">HDMIRX_D1_P</text><text x="930" y="1070">HDMIRX_D1_N</text><text x="930" y="1080">HDMIRX_D2_P</text><text x="930" y="1090">HDMIRX_D2_N</text>
<text x="870" y="1140">HDMIRX_SDA</text><text x="870" y="1150">HDMIRX_SCL</text><text x="870" y="1160">HDMIRX_CEC</text><text x="870" y="1170">HDMIRX_HPD</text></g>
<g class="b"><text x="620" y="1010">U1.2</text><text x="620" y="1290">RK628D</text>
<text x="890" y="1020">R38</text><text x="910" y="1020">2.2R</text><text x="890" y="1030">R39</text><text x="910" y="1030">2.2R</text><text x="890" y="1040">R40</text><text x="910" y="1040">2.2R</text><text x="890" y="1050">R41</text><text x="910" y="1050">2.2R</text><text x="890" y="1060">R42</text><text x="910" y="1060">2.2R</text><text x="890" y="1070">R43</text><text x="910" y="1070">2.2R</text><text x="890" y="1080">R44</text><text x="910" y="1080">2.2R</text><text x="890" y="1090">R45</text><text x="910" y="1090">2.2R</text>
<text x="810" y="1140">R46</text><text x="830" y="1140">22R</text><text x="810" y="1150">R47</text><text x="830" y="1150">22R</text><text x="810" y="1160">R49</text><text x="830" y="1160">22R</text><text x="810" y="1170">R50</text><text x="830" y="1170">22R</text><text x="810" y="1190">R51</text><text x="830" y="1190">2K</text>
<text x="830" y="1259">C48</text><text x="830" y="1269">10V</text><text x="830" y="1279">0402</text><text x="830" y="1289">10uF</text>
<text x="870" y="1259">C49</text><text x="870" y="1269">16V</text><text x="870" y="1279">0402</text><text x="870" y="1289">100nF</text>
<text x="910" y="1259">C50</text><text x="910" y="1269">10V</text><text x="910" y="1279">0402</text><text x="910" y="1289">10uF</text>
<text x="950" y="1259">C51</text><text x="950" y="1269">16V</text><text x="950" y="1279">0402</text><text x="950" y="1289">100nF</text></g>
<g class="k e">
<text x="762" y="1026">HDMIRX_CLKP</text><text x="762" y="1036">HDMIRX_CLKN</text><text x="762" y="1046">HDMIRX_D0P</text><text x="762" y="1056">HDMIRX_D0N</text><text x="762" y="1066">HDMIRX_D1P</text><text x="762" y="1076">HDMIRX_D1N</text><text x="762" y="1086">HDMIRX_D2P</text><text x="762" y="1096">HDMIRX_D2N</text>
<text x="762" y="1116">VSS_28</text><text x="762" y="1126">VSS_29</text>
<text x="762" y="1146">GPIO1_B1/HDMIRX_SDA_M0</text><text x="762" y="1156">GPIO1_B2/HDMIRX_SCL_M0</text><text x="762" y="1166">GPIO1_B3/HDMIRX_CEC_M0</text><text x="762" y="1176">GPIO1_B0/HDMIRX_HPD_M0</text>
<text x="762" y="1196">HDMIRX_EXTR</text><text x="762" y="1216">HDMIRX_DVDD_1V1_1</text><text x="762" y="1226">HDMIRX_DVDD_1V1_2</text><text x="762" y="1246">HDMIRX_AVDD_3V3_1</text><text x="762" y="1266">VSS_10</text><text x="762" y="1276">VSS_11</text></g>
<g class="k"><text x="775" y="1020">L12</text><text x="775" y="1030">L11</text><text x="775" y="1040">K12</text><text x="775" y="1050">K11</text><text x="775" y="1060">J12</text><text x="775" y="1070">J11</text><text x="775" y="1080">H12</text><text x="775" y="1090">H11</text><text x="775" y="1110">L10</text><text x="775" y="1120">M11</text><text x="775" y="1140">M8</text><text x="775" y="1150">L8</text><text x="775" y="1160">K9</text><text x="775" y="1170">K8</text><text x="775" y="1190">G9</text><text x="775" y="1210">H9</text><text x="775" y="1220">J9</text><text x="775" y="1240">J10</text><text x="775" y="1260">H10</text><text x="775" y="1270">K10</text></g>

<rect class="bx" x="1050" y="952" width="150" height="340"/>
<path class="p" d="M1200 962h30M1200 972h30M1200 982h30M1200 992h30M1200 1012h30M1200 1022h30M1200 1032h30M1200 1042h30M1200 1052h30M1200 1062h30M1200 1072h30M1200 1082h30M1200 1092h30M1200 1102h30M1200 1112h30M1200 1122h30M1200 1132h30M1200 1142h30M1200 1152h30M1200 1162h30M1200 1172h30M1200 1182h30M1200 1192h30M1200 1202h30M1200 1212h30M1200 1222h30M1200 1232h30M1200 1242h30M1200 1252h30M1200 1272h30M1200 1282h30"/>
<path class="x" d="M1226 958l8 8M1234 958l-8 8M1226 968l8 8M1234 968l-8 8M1226 978l8 8M1234 978l-8 8M1226 988l8 8M1234 988l-8 8M1226 1008l8 8M1234 1008l-8 8M1226 1018l8 8M1234 1018l-8 8M1226 1028l8 8M1234 1028l-8 8M1226 1038l8 8M1234 1038l-8 8M1226 1048l8 8M1234 1048l-8 8M1226 1058l8 8M1234 1058l-8 8M1226 1068l8 8M1234 1068l-8 8M1226 1078l8 8M1234 1078l-8 8M1226 1088l8 8M1234 1088l-8 8M1226 1098l8 8M1234 1098l-8 8M1226 1108l8 8M1234 1108l-8 8M1226 1118l8 8M1234 1118l-8 8M1226 1128l8 8M1234 1128l-8 8M1226 1138l8 8M1234 1138l-8 8M1226 1148l8 8M1234 1148l-8 8M1226 1158l8 8M1234 1158l-8 8M1226 1168l8 8M1234 1168l-8 8M1226 1178l8 8M1234 1178l-8 8M1226 1188l8 8M1234 1188l-8 8M1226 1198l8 8M1234 1198l-8 8M1226 1208l8 8M1234 1208l-8 8M1226 1218l8 8M1234 1218l-8 8M1226 1228l8 8M1234 1228l-8 8M1226 1238l8 8M1234 1238l-8 8M1226 1248l8 8M1234 1248l-8 8M1226 1268l8 8M1234 1268l-8 8M1226 1278l8 8M1234 1278l-8 8"/>
<g class="k e">
<text x="1192" y="966">VOP_DCLK</text><text x="1192" y="976">GPIO3_A0/VOP_DEN</text><text x="1192" y="986">GPIO3_A1/VOP_HSYNC</text><text x="1192" y="996">GPIO3_A3/VOP_VSYNC</text>
<text x="1192" y="1016">GPIO2_A0/VOP_D0</text><text x="1192" y="1026">GPIO2_A1/VOP_D1</text><text x="1192" y="1036">GPIO2_A2/VOP_D2</text><text x="1192" y="1046">GPIO2_A3/VOP_D3</text><text x="1192" y="1056">GPIO2_A4/VOP_D4</text><text x="1192" y="1066">GPIO2_A5/VOP_D5</text><text x="1192" y="1076">GPIO2_A6/VOP_D6</text><text x="1192" y="1086">GPIO2_A7/VOP_D7</text><text x="1192" y="1096">GPIO2_B0/VOP_D8</text><text x="1192" y="1106">GPIO2_B1/VOP_D9</text><text x="1192" y="1116">GPIO2_B2/VOP_D10</text><text x="1192" y="1126">GPIO2_B3/VOP_D11</text><text x="1192" y="1136">GPIO2_B4/VOP_D12</text><text x="1192" y="1146">GPIO2_B5/VOP_D13</text><text x="1192" y="1156">GPIO2_B6/VOP_D14</text><text x="1192" y="1166">GPIO2_B7/VOP_D15</text><text x="1192" y="1176">GPIO2_C0/VOP_D16</text><text x="1192" y="1186">GPIO2_C1/VOP_D17</text><text x="1192" y="1196">GPIO2_C2/VOP_D18</text><text x="1192" y="1206">GPIO2_C3/VOP_D19</text><text x="1192" y="1216">GPIO2_C4/VOP_D20</text><text x="1192" y="1226">GPIO2_C5/VOP_D21</text><text x="1192" y="1236">GPIO2_C6/VOP_D22</text><text x="1192" y="1246">GPIO2_C7/VOP_D23</text><text x="1192" y="1256">GPIO1_A1</text>
<text x="1192" y="1276">VCCIO2_1</text><text x="1192" y="1286">VCCIO2_2</text></g>
<g class="k"><text x="1205" y="960">A9</text><text x="1205" y="970">B9</text><text x="1205" y="980">A8</text><text x="1205" y="990">B8</text>
<text x="1205" y="1010">G10</text><text x="1205" y="1020">G11</text><text x="1205" y="1030">G12</text><text x="1205" y="1040">F9</text><text x="1205" y="1050">F12</text><text x="1205" y="1060">F11</text><text x="1205" y="1070">F10</text><text x="1205" y="1080">E10</text><text x="1205" y="1090">E12</text><text x="1205" y="1100">E11</text><text x="1205" y="1110">D10</text><text x="1205" y="1120">D11</text><text x="1205" y="1130">C11</text><text x="1205" y="1140">D12</text><text x="1205" y="1150">C12</text><text x="1205" y="1160">B12</text><text x="1205" y="1170">B11</text><text x="1205" y="1180">A11</text><text x="1205" y="1190">C10</text><text x="1205" y="1200">B10</text><text x="1205" y="1210">A10</text><text x="1205" y="1220">D9</text><text x="1205" y="1230">C9</text><text x="1205" y="1240">C8</text><text x="1205" y="1250">H8</text><text x="1205" y="1270">E8</text><text x="1205" y="1280">F8</text></g>
<g class="b"><text x="1050" y="949">U1.4</text><text x="1050" y="1300">RK628D</text></g>

<rect class="bx" x="1270" y="1002" width="150" height="260"/>
<path class="p" d="M1420 1012h30M1420 1022h30M1420 1032h30M1420 1042h30M1420 1052h30M1420 1062h30M1420 1072h30M1420 1082h30M1420 1102h30M1420 1112h30M1420 1122h30M1420 1132h30M1420 1152h30M1420 1172h30M1420 1182h30M1420 1192h30M1420 1212h30M1420 1232h30M1420 1242h30M1420 1252h30"/>
<path class="w" d="M1450 1232V1282"/>
<use href="#gd" x="1450" y="1282"/>
<g class="d"><circle cx="1450" cy="1242" r="2"/><circle cx="1450" cy="1252" r="2"/></g>
<path class="x" d="M1446 1008l8 8M1454 1008l-8 8M1446 1018l8 8M1454 1018l-8 8M1446 1028l8 8M1454 1028l-8 8M1446 1038l8 8M1454 1038l-8 8M1446 1048l8 8M1454 1048l-8 8M1446 1058l8 8M1454 1058l-8 8M1446 1068l8 8M1454 1068l-8 8M1446 1078l8 8M1454 1078l-8 8M1446 1098l8 8M1454 1098l-8 8M1446 1108l8 8M1454 1108l-8 8M1446 1118l8 8M1454 1118l-8 8M1446 1128l8 8M1454 1128l-8 8M1446 1148l8 8M1454 1148l-8 8M1446 1158l8 8M1454 1158l-8 8M1446 1168l8 8M1454 1168l-8 8M1446 1178l8 8M1454 1178l-8 8M1446 1188l8 8M1454 1188l-8 8M1446 1208l8 8M1454 1208l-8 8"/>
<g class="k e">
<text x="1412" y="1016">HDMITX_CLKP</text><text x="1412" y="1026">HDMITX_CLKN</text><text x="1412" y="1036">HDMITX_D0P</text><text x="1412" y="1046">HDMITX_D0N</text><text x="1412" y="1056">HDMITX_D1P</text><text x="1412" y="1066">HDMITX_D1N</text><text x="1412" y="1076">HDMITX_D2P</text><text x="1412" y="1086">HDMITX_D2N</text>
<text x="1412" y="1106">GPIO0_B1/HDMITX_SDA</text><text x="1412" y="1116">GPIO0_B2/HDMITX_SCL</text><text x="1412" y="1126">GPIO0_B3/HDMITX_CEC</text><text x="1412" y="1136">GPIO0_B0/HDMITX_HPD</text>
<text x="1412" y="1156">HDMITX_EXTR</text><text x="1412" y="1176">HDMITX_DVDD_1V1_1</text><text x="1412" y="1186">HDMITX_DVDD_1V1_2</text><text x="1412" y="1196">HDMITX_DVDD_1V1_3</text><text x="1412" y="1216">HDMITX_AVDD_3V3</text>
<text x="1412" y="1236">VSS_7</text><text x="1412" y="1246">VSS_8</text><text x="1412" y="1256">VSS_9</text></g>
<g class="k"><text x="1425" y="1010">M4</text><text x="1425" y="1020">L4</text><text x="1425" y="1030">M5</text><text x="1425" y="1040">L5</text><text x="1425" y="1050">M6</text><text x="1425" y="1060">L6</text><text x="1425" y="1070">M7</text><text x="1425" y="1080">L7</text><text x="1425" y="1100">K1</text><text x="1425" y="1110">L1</text><text x="1425" y="1120">M2</text><text x="1425" y="1130">L2</text><text x="1425" y="1150">M3</text><text x="1425" y="1170">J6</text><text x="1425" y="1180">J4</text><text x="1425" y="1190">J5</text><text x="1425" y="1210">K4</text><text x="1425" y="1230">K5</text><text x="1425" y="1240">K6</text><text x="1425" y="1250">K7</text></g>
<g class="b"><text x="1270" y="999">U1.3</text><text x="1270" y="1270">RK628D</text></g>
</svg>
</body></html>
